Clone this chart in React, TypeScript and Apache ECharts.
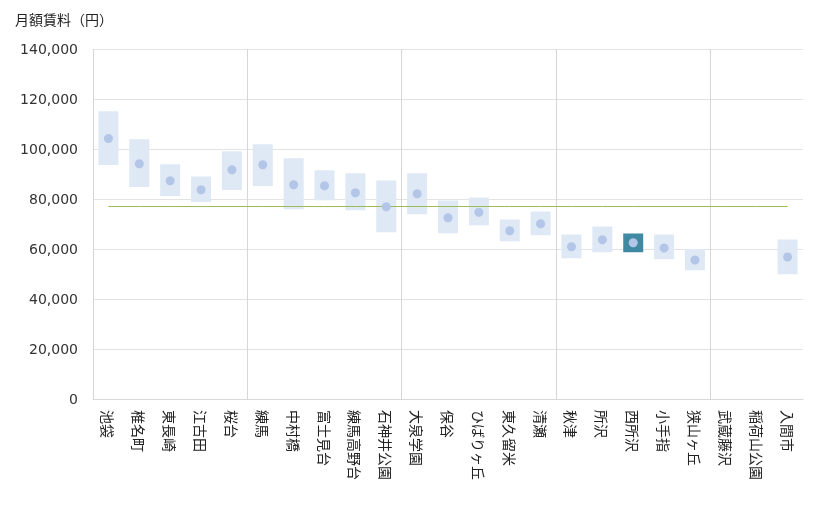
import React, { useEffect, useRef } from "react";
import * as echarts from "echarts";

const categories = [
  "池袋", "椎名町", "東長崎", "江古田", "桜台",
  "練馬", "中村橋", "富士見台", "練馬高野台", "石神井公園",
  "大泉学園", "保谷", "ひばりヶ丘", "東久留米", "清瀬",
  "秋津", "所沢", "西所沢", "小手指", "狭山ヶ丘",
  "武蔵藤沢", "稲荷山公園", "入間市",
];

const rangeLow = [
  93600, 84800, 81200, 78800, 83600,
  85200, 75900, 79500, 75500, 66700,
  73900, 66300, 69500, 63100, 65500,
  56300, 58700, 58700, 55900, 51500,
  null, null, 49900,
];

const rangeHigh = [
  115100, 103900, 93900, 89000, 99100,
  101900, 96300, 91500, 90300, 87400,
  90300, 79400, 80600, 71800, 75000,
  65800, 69000, 66200, 65800, 60000,
  null, null, 63800,
];

const centerValues = [
  104200, 94100, 87300, 83700, 91700,
  93700, 85700, 85300, 82500, 76900,
  82100, 72500, 74700, 67300, 70100,
  60900, 63700, 62500, 60400, 55600,
  null, null, 56800,
];

const referenceValue = 77000;
const highlightCategory = "西所沢";
const groupSize = 5;

const yTicks = { min: 0, max: 140000, interval: 20000 };
const yAxisTitle = "月額賃料（円）";

export default function App() {
  const ref = useRef<HTMLDivElement>(null);

  useEffect(() => {
    if (!ref.current) return;
    const chart = echarts.init(ref.current, null, { renderer: "svg" });

    const rangeData: any[] = [];
    categories.forEach((c, i) => {
      if (rangeLow[i] != null && rangeHigh[i] != null) {
        rangeData.push([i, rangeLow[i], rangeHigh[i]]);
      }
    });
    const hiIndex = categories.indexOf(highlightCategory);

    chart.setOption({
      animation: false,
      textStyle: { fontFamily: "DejaVu Sans, Noto Sans CJK JP, sans-serif" },
      grid: { left: 93, right: 17, top: 49, bottom: 111, containLabel: false },
      graphic: [
        {
          type: "text",
          left: 15,
          top: 12,
          style: {
            text: yAxisTitle,
            fontSize: 14,
            fill: "#222",
            fontFamily: "Noto Sans CJK JP, sans-serif",
          },
        },
      ],
      xAxis: {
        type: "category",
        data: categories,
        boundaryGap: true,
        axisLine: { show: true, lineStyle: { color: "#d9d9d9" } },
        axisTick: { show: false },
        splitLine: {
          show: true,
          showMinLine: true,
          showMaxLine: false,
          interval: (index: number) => index % groupSize === 0,
          lineStyle: { color: "#d6d6d6", width: 1 },
        },
        axisLabel: {
          interval: 0,
          rotate: -90,
          margin: 11,
          fontSize: 14,
          color: "#222",
          fontFamily: "Noto Sans CJK JP, sans-serif",
        },
      },
      yAxis: {
        type: "value",
        min: yTicks.min,
        max: yTicks.max,
        interval: yTicks.interval,
        axisLine: { show: false },
        axisTick: { show: false },
        splitLine: { show: true, lineStyle: { color: "#e3e3e3" } },
        axisLabel: {
          margin: 15,
          fontSize: 14,
          color: "#333",
          fontFamily: "DejaVu Sans, sans-serif",
          formatter: (v: number) => v.toLocaleString("en-US"),
        },
      },
      series: [
        {
          type: "custom",
          name: "range",
          z: 2,
          data: rangeData,
          encode: { x: 0, y: [1, 2] },
          renderItem: (params: any, api: any) => {
            const idx = api.value(0);
            const lo = api.coord([idx, api.value(1)]);
            const hi = api.coord([idx, api.value(2)]);
            const w = 20;
            return {
              type: "rect",
              shape: { x: lo[0] - w / 2, y: hi[1], width: w, height: lo[1] - hi[1] },
              style: { fill: idx === hiIndex ? "#3f89a2" : "#dee9f5" },
            };
          },
        },
        {
          type: "line",
          name: "reference",
          z: 3,
          data: categories.map(() => referenceValue),
          showSymbol: false,
          symbol: "none",
          lineStyle: { color: "#9bbb59", width: 1 },
          silent: true,
        },
        {
          type: "scatter",
          name: "center",
          z: 4,
          symbolSize: 9,
          data: centerValues.map((v) => (v == null ? "-" : v)),
          itemStyle: { color: "#b4c6e7", opacity: 1 },
        },
      ],
    });

    return () => chart.dispose();
  }, []);

  return (
    <div
      ref={ref}
      style={{ position: "fixed", left: 0, top: 0, width: 820, height: 510 }}
    />
  );
}
